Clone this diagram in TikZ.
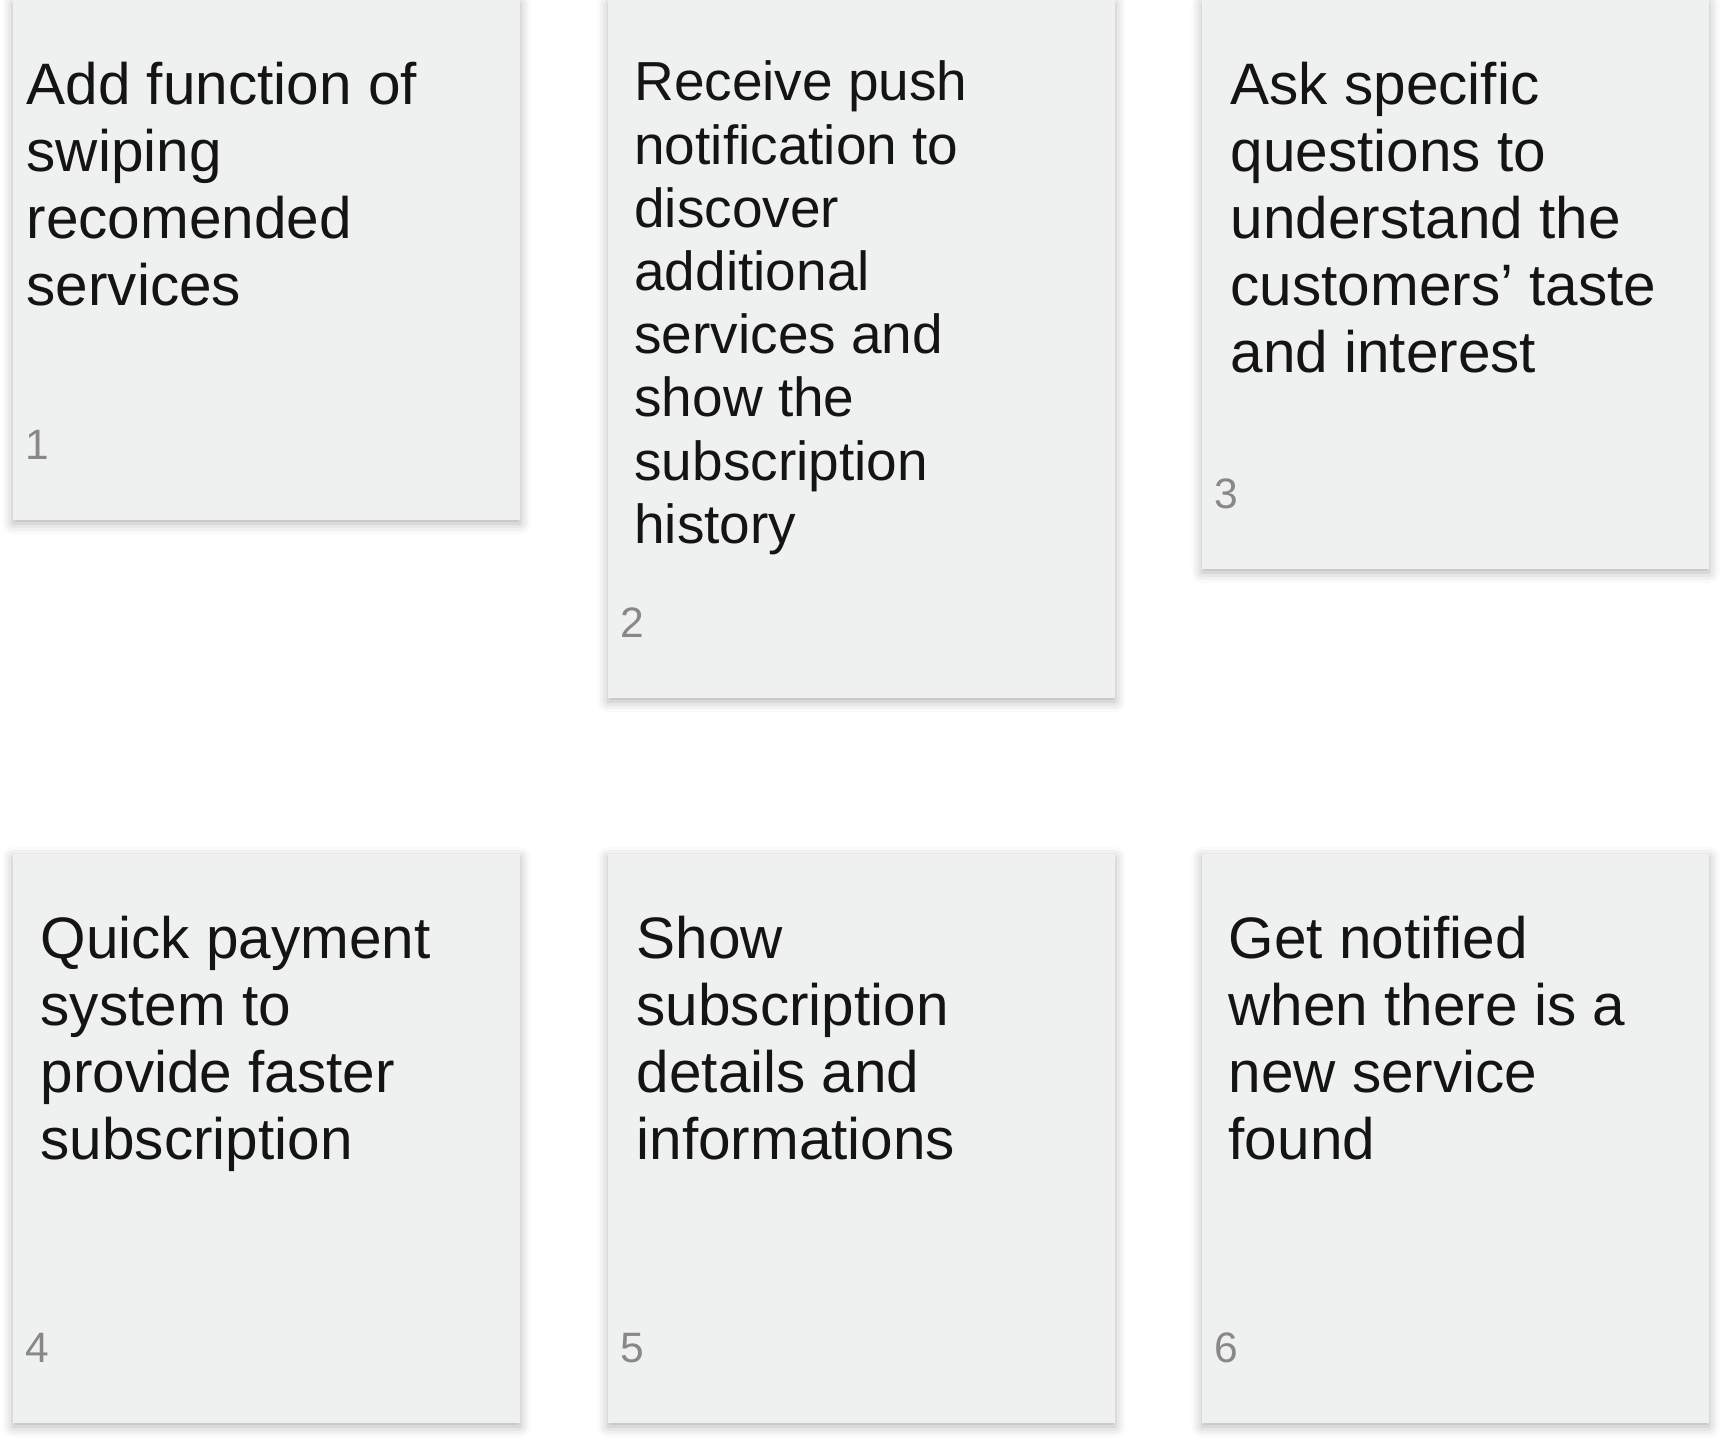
\documentclass[tikz,border=0pt]{standalone}
\usepackage{fontspec}
\setmainfont{Liberation Sans}
\usetikzlibrary{positioning,shadows.blur}
\definecolor{cardfill}{RGB}{239,241,240}
\definecolor{cardink}{RGB}{20,20,20}
\definecolor{numink}{RGB}{136,136,136}
\begin{document}
\begin{tikzpicture}[
    card/.style={anchor=north west, fill=cardfill, inner sep=0pt, outer sep=0pt,
      minimum width=5.07cm,
      blur shadow={shadow xshift=0pt, shadow yshift=-1pt, shadow blur radius=3pt, shadow opacity=30}},
    cardtext/.style={inner sep=0pt, align=left, text=cardink,
      font=\fontsize{16.64}{19.06}\selectfont},
    smalltext/.style={cardtext, font=\fontsize{15.65}{17.98}\selectfont},
    cardnum/.style={inner sep=0pt, text=numink, anchor=base west,
      font=\fontsize{12.1}{14}\selectfont}
  ]
  \useasboundingbox (0,0) rectangle (17.2,-14.46);
  % cards
  \node[card, minimum height=5.20cm] (card1) at (0.13,0) {};
  \node[card, minimum height=6.98cm] (card2) at (6.08,0) {};
  \node[card, minimum height=5.69cm] (card3) at (12.02,0) {};
  \node[card, minimum height=5.69cm] (card4) at (0.13,-8.54) {};
  \node[card, minimum height=5.69cm] (card5) at (6.08,-8.54) {};
  \node[card, minimum height=5.69cm] (card6) at (12.02,-8.54) {};
  % texts
  \node[cardtext, below right=0.565cm and 0.13cm of card1.north west] (text1)
    {\strut Add function of\\swiping\\recomended\\services};
  \node[smalltext, below right=0.56cm and 0.257cm of card2.north west] (text2)
    {\strut Receive push\\notification to\\discover\\additional\\services and\\show the\\subscription\\history};
  \node[cardtext, below right=0.565cm and 0.28cm of card3.north west] (text3)
    {\strut Ask specific\\questions to\\understand the\\customers’ taste\\and interest};
  \node[cardtext, below right=0.565cm and 0.27cm of card4.north west] (text4)
    {\strut Quick payment\\system to\\provide faster\\subscription};
  \node[cardtext, below right=0.565cm and 0.28cm of card5.north west] (text5)
    {\strut Show\\subscription\\details and\\informations};
  \node[cardtext, below right=0.565cm and 0.26cm of card6.north west] (text6)
    {\strut Get notified\\when there is a\\new service\\found};
  % numbers
  \foreach \i in {1,...,6}
    \node[cardnum] (num\i) at ([shift={(0.115,0.61)}]card\i.south west) {\i};
\end{tikzpicture}
\end{document}
